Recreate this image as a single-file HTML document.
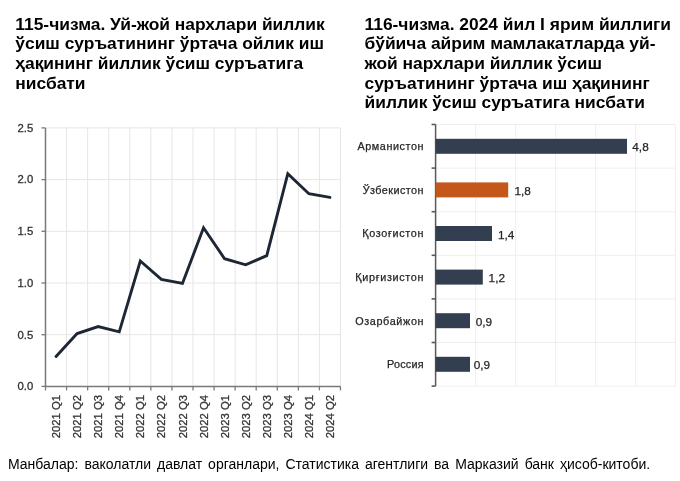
<!DOCTYPE html>
<html><head><meta charset="utf-8"><style>
html,body{margin:0;padding:0;background:#fff;}
body{filter:blur(0.3px);}
body{width:680px;height:481px;position:relative;overflow:hidden;font-family:"Liberation Sans",sans-serif;}
.t{position:absolute;font-weight:bold;font-size:17.4px;line-height:19.7px;color:#000;white-space:nowrap;}
svg{position:absolute;left:0;top:0;}
.yl{position:absolute;left:0;width:33.2px;text-align:right;font-size:11.3px;line-height:20px;color:#333;-webkit-text-stroke:0.3px #333;}
.cl{position:absolute;left:300px;width:123.5px;text-align:right;font-size:10.8px;line-height:20px;color:#262626;white-space:nowrap;-webkit-text-stroke:0.25px #262626;}
.vl{position:absolute;font-size:11.8px;line-height:20px;color:#262626;white-space:nowrap;-webkit-text-stroke:0.25px #262626;}
.foot{position:absolute;left:8px;top:454.8px;font-size:14px;line-height:18px;color:#000;white-space:nowrap;word-spacing:2.1px;}
</style></head><body>
<div class="t" style="left:15.3px;top:14.65px;">115-чизма. Уй-жой нархлари йиллик<br>ўсиш суръатининг ўртача ойлик иш<br>ҳақининг йиллик ўсиш суръатига<br>нисбати</div>
<div class="t" style="left:364.5px;top:14.65px;">116-чизма. 2024 йил I ярим йиллиги<br>бўйича айрим мамлакатларда уй-<br>жой нархлари йиллик ўсиш<br>суръатининг ўртача иш ҳақининг<br>йиллик ўсиш суръатига нисбати</div>
<svg width="680" height="481" viewBox="0 0 680 481">
<line x1="45.5" y1="334.70" x2="340.48" y2="334.70" stroke="#e6e6e6" stroke-width="1"/>
<line x1="45.5" y1="283.00" x2="340.48" y2="283.00" stroke="#e6e6e6" stroke-width="1"/>
<line x1="45.5" y1="231.30" x2="340.48" y2="231.30" stroke="#e6e6e6" stroke-width="1"/>
<line x1="45.5" y1="179.60" x2="340.48" y2="179.60" stroke="#e6e6e6" stroke-width="1"/>
<line x1="45.5" y1="127.90" x2="340.48" y2="127.90" stroke="#e6e6e6" stroke-width="1"/>
<line x1="66.57" y1="127.9" x2="66.57" y2="386.4" stroke="#e6e6e6" stroke-width="1"/>
<line x1="87.64" y1="127.9" x2="87.64" y2="386.4" stroke="#e6e6e6" stroke-width="1"/>
<line x1="108.71" y1="127.9" x2="108.71" y2="386.4" stroke="#e6e6e6" stroke-width="1"/>
<line x1="129.78" y1="127.9" x2="129.78" y2="386.4" stroke="#e6e6e6" stroke-width="1"/>
<line x1="150.85" y1="127.9" x2="150.85" y2="386.4" stroke="#e6e6e6" stroke-width="1"/>
<line x1="171.92" y1="127.9" x2="171.92" y2="386.4" stroke="#e6e6e6" stroke-width="1"/>
<line x1="192.99" y1="127.9" x2="192.99" y2="386.4" stroke="#e6e6e6" stroke-width="1"/>
<line x1="214.06" y1="127.9" x2="214.06" y2="386.4" stroke="#e6e6e6" stroke-width="1"/>
<line x1="235.13" y1="127.9" x2="235.13" y2="386.4" stroke="#e6e6e6" stroke-width="1"/>
<line x1="256.20" y1="127.9" x2="256.20" y2="386.4" stroke="#e6e6e6" stroke-width="1"/>
<line x1="277.27" y1="127.9" x2="277.27" y2="386.4" stroke="#e6e6e6" stroke-width="1"/>
<line x1="298.34" y1="127.9" x2="298.34" y2="386.4" stroke="#e6e6e6" stroke-width="1"/>
<line x1="319.41" y1="127.9" x2="319.41" y2="386.4" stroke="#e6e6e6" stroke-width="1"/>
<line x1="340.48" y1="127.9" x2="340.48" y2="386.4" stroke="#e6e6e6" stroke-width="1"/>
<line x1="45.5" y1="127.9" x2="45.5" y2="386.4" stroke="#7a7a7a" stroke-width="1.5"/>
<line x1="44.75" y1="386.4" x2="340.48" y2="386.4" stroke="#7a7a7a" stroke-width="1.5"/>
<line x1="41.5" y1="386.40" x2="45.5" y2="386.40" stroke="#7a7a7a" stroke-width="1.3"/>
<line x1="41.5" y1="334.70" x2="45.5" y2="334.70" stroke="#7a7a7a" stroke-width="1.3"/>
<line x1="41.5" y1="283.00" x2="45.5" y2="283.00" stroke="#7a7a7a" stroke-width="1.3"/>
<line x1="41.5" y1="231.30" x2="45.5" y2="231.30" stroke="#7a7a7a" stroke-width="1.3"/>
<line x1="41.5" y1="179.60" x2="45.5" y2="179.60" stroke="#7a7a7a" stroke-width="1.3"/>
<line x1="41.5" y1="127.90" x2="45.5" y2="127.90" stroke="#7a7a7a" stroke-width="1.3"/>
<line x1="45.50" y1="386.4" x2="45.50" y2="390.4" stroke="#7a7a7a" stroke-width="1.3"/>
<line x1="66.57" y1="386.4" x2="66.57" y2="390.4" stroke="#7a7a7a" stroke-width="1.3"/>
<line x1="87.64" y1="386.4" x2="87.64" y2="390.4" stroke="#7a7a7a" stroke-width="1.3"/>
<line x1="108.71" y1="386.4" x2="108.71" y2="390.4" stroke="#7a7a7a" stroke-width="1.3"/>
<line x1="129.78" y1="386.4" x2="129.78" y2="390.4" stroke="#7a7a7a" stroke-width="1.3"/>
<line x1="150.85" y1="386.4" x2="150.85" y2="390.4" stroke="#7a7a7a" stroke-width="1.3"/>
<line x1="171.92" y1="386.4" x2="171.92" y2="390.4" stroke="#7a7a7a" stroke-width="1.3"/>
<line x1="192.99" y1="386.4" x2="192.99" y2="390.4" stroke="#7a7a7a" stroke-width="1.3"/>
<line x1="214.06" y1="386.4" x2="214.06" y2="390.4" stroke="#7a7a7a" stroke-width="1.3"/>
<line x1="235.13" y1="386.4" x2="235.13" y2="390.4" stroke="#7a7a7a" stroke-width="1.3"/>
<line x1="256.20" y1="386.4" x2="256.20" y2="390.4" stroke="#7a7a7a" stroke-width="1.3"/>
<line x1="277.27" y1="386.4" x2="277.27" y2="390.4" stroke="#7a7a7a" stroke-width="1.3"/>
<line x1="298.34" y1="386.4" x2="298.34" y2="390.4" stroke="#7a7a7a" stroke-width="1.3"/>
<line x1="319.41" y1="386.4" x2="319.41" y2="390.4" stroke="#7a7a7a" stroke-width="1.3"/>
<line x1="340.48" y1="386.4" x2="340.48" y2="390.4" stroke="#7a7a7a" stroke-width="1.3"/>
<polyline points="56.03,356.50 77.11,333.50 98.17,326.60 119.25,331.80 140.31,261.00 161.38,279.30 182.46,283.40 203.53,227.80 224.59,258.75 245.66,264.80 266.74,255.60 287.81,173.70 308.88,193.70 329.94,197.40" fill="none" stroke="#1d2634" stroke-width="2.9" stroke-linejoin="miter" stroke-linecap="round"/>
<line x1="435.6" y1="124.50" x2="675.6" y2="124.50" stroke="#efefef" stroke-width="1"/>
<line x1="435.6" y1="168.10" x2="675.6" y2="168.10" stroke="#efefef" stroke-width="1"/>
<line x1="435.6" y1="211.70" x2="675.6" y2="211.70" stroke="#efefef" stroke-width="1"/>
<line x1="435.6" y1="255.30" x2="675.6" y2="255.30" stroke="#efefef" stroke-width="1"/>
<line x1="435.6" y1="298.90" x2="675.6" y2="298.90" stroke="#efefef" stroke-width="1"/>
<line x1="435.6" y1="342.50" x2="675.6" y2="342.50" stroke="#efefef" stroke-width="1"/>
<line x1="435.6" y1="386.10" x2="675.6" y2="386.10" stroke="#efefef" stroke-width="1"/>
<line x1="475.60" y1="124.5" x2="475.60" y2="386.10" stroke="#efefef" stroke-width="1"/>
<line x1="515.60" y1="124.5" x2="515.60" y2="386.10" stroke="#efefef" stroke-width="1"/>
<line x1="555.60" y1="124.5" x2="555.60" y2="386.10" stroke="#efefef" stroke-width="1"/>
<line x1="595.60" y1="124.5" x2="595.60" y2="386.10" stroke="#efefef" stroke-width="1"/>
<line x1="635.60" y1="124.5" x2="635.60" y2="386.10" stroke="#efefef" stroke-width="1"/>
<line x1="675.60" y1="124.5" x2="675.60" y2="386.10" stroke="#efefef" stroke-width="1"/>
<line x1="435.6" y1="124.5" x2="435.6" y2="386.10" stroke="#595959" stroke-width="1.5"/>
<line x1="431.6" y1="124.50" x2="435.6" y2="124.50" stroke="#595959" stroke-width="1.6"/>
<line x1="431.6" y1="168.10" x2="435.6" y2="168.10" stroke="#595959" stroke-width="1.6"/>
<line x1="431.6" y1="211.70" x2="435.6" y2="211.70" stroke="#595959" stroke-width="1.6"/>
<line x1="431.6" y1="255.30" x2="435.6" y2="255.30" stroke="#595959" stroke-width="1.6"/>
<line x1="431.6" y1="298.90" x2="435.6" y2="298.90" stroke="#595959" stroke-width="1.6"/>
<line x1="431.6" y1="342.50" x2="435.6" y2="342.50" stroke="#595959" stroke-width="1.6"/>
<line x1="431.6" y1="386.10" x2="435.6" y2="386.10" stroke="#595959" stroke-width="1.6"/>
<rect x="435.6" y="138.80" width="191.40" height="15" fill="#333f50"/>
<rect x="435.6" y="182.40" width="72.60" height="15" fill="#c4581a"/>
<rect x="435.6" y="226.00" width="56.40" height="15" fill="#333f50"/>
<rect x="435.6" y="269.60" width="47.20" height="15" fill="#333f50"/>
<rect x="435.6" y="313.20" width="34.40" height="15" fill="#333f50"/>
<rect x="435.6" y="356.80" width="34.40" height="15" fill="#333f50"/>
<text transform="translate(60.13,395.00) rotate(-90)" text-anchor="end" font-family="Liberation Sans" font-size="11.3" fill="#333" stroke="#333" stroke-width="0.3">2021 Q1</text>
<text transform="translate(81.20,395.00) rotate(-90)" text-anchor="end" font-family="Liberation Sans" font-size="11.3" fill="#333" stroke="#333" stroke-width="0.3">2021 Q2</text>
<text transform="translate(102.27,395.00) rotate(-90)" text-anchor="end" font-family="Liberation Sans" font-size="11.3" fill="#333" stroke="#333" stroke-width="0.3">2021 Q3</text>
<text transform="translate(123.34,395.00) rotate(-90)" text-anchor="end" font-family="Liberation Sans" font-size="11.3" fill="#333" stroke="#333" stroke-width="0.3">2021 Q4</text>
<text transform="translate(144.41,395.00) rotate(-90)" text-anchor="end" font-family="Liberation Sans" font-size="11.3" fill="#333" stroke="#333" stroke-width="0.3">2022 Q1</text>
<text transform="translate(165.48,395.00) rotate(-90)" text-anchor="end" font-family="Liberation Sans" font-size="11.3" fill="#333" stroke="#333" stroke-width="0.3">2022 Q2</text>
<text transform="translate(186.56,395.00) rotate(-90)" text-anchor="end" font-family="Liberation Sans" font-size="11.3" fill="#333" stroke="#333" stroke-width="0.3">2022 Q3</text>
<text transform="translate(207.62,395.00) rotate(-90)" text-anchor="end" font-family="Liberation Sans" font-size="11.3" fill="#333" stroke="#333" stroke-width="0.3">2022 Q4</text>
<text transform="translate(228.69,395.00) rotate(-90)" text-anchor="end" font-family="Liberation Sans" font-size="11.3" fill="#333" stroke="#333" stroke-width="0.3">2023 Q1</text>
<text transform="translate(249.76,395.00) rotate(-90)" text-anchor="end" font-family="Liberation Sans" font-size="11.3" fill="#333" stroke="#333" stroke-width="0.3">2023 Q2</text>
<text transform="translate(270.84,395.00) rotate(-90)" text-anchor="end" font-family="Liberation Sans" font-size="11.3" fill="#333" stroke="#333" stroke-width="0.3">2023 Q3</text>
<text transform="translate(291.91,395.00) rotate(-90)" text-anchor="end" font-family="Liberation Sans" font-size="11.3" fill="#333" stroke="#333" stroke-width="0.3">2023 Q4</text>
<text transform="translate(312.98,395.00) rotate(-90)" text-anchor="end" font-family="Liberation Sans" font-size="11.3" fill="#333" stroke="#333" stroke-width="0.3">2024 Q1</text>
<text transform="translate(334.05,395.00) rotate(-90)" text-anchor="end" font-family="Liberation Sans" font-size="11.3" fill="#333" stroke="#333" stroke-width="0.3">2024 Q2</text>
</svg>
<div class="cl" style="top:136.20px;width:124.08px;letter-spacing:0.58px;">Арманистон</div>
<div class="vl" style="left:632.30px;top:137.30px;">4,8</div>
<div class="cl" style="top:179.80px;width:123.96px;letter-spacing:0.46px;">Ўзбекистон</div>
<div class="vl" style="left:514.50px;top:180.90px;">1,8</div>
<div class="cl" style="top:223.40px;width:124.18px;letter-spacing:0.68px;">Қозоғистон</div>
<div class="vl" style="left:497.90px;top:224.50px;">1,4</div>
<div class="cl" style="top:267.00px;width:124.17px;letter-spacing:0.67px;">Қирғизистон</div>
<div class="vl" style="left:488.60px;top:268.10px;">1,2</div>
<div class="cl" style="top:310.60px;width:124.14px;letter-spacing:0.64px;">Озарбайжон</div>
<div class="vl" style="left:475.70px;top:311.70px;">0,9</div>
<div class="cl" style="top:354.20px;width:123.70px;letter-spacing:0.2px;">Россия</div>
<div class="vl" style="left:473.70px;top:355.30px;">0,9</div>
<div class="yl" style="top:376.20px;">0.0</div>
<div class="yl" style="top:324.50px;">0.5</div>
<div class="yl" style="top:272.80px;">1.0</div>
<div class="yl" style="top:221.10px;">1.5</div>
<div class="yl" style="top:169.40px;">2.0</div>
<div class="yl" style="top:117.70px;">2.5</div>
<div class="foot">Манбалар: ваколатли давлат органлари, Статистика агентлиги ва Марказий банк ҳисоб-китоби.</div>
</body></html>
